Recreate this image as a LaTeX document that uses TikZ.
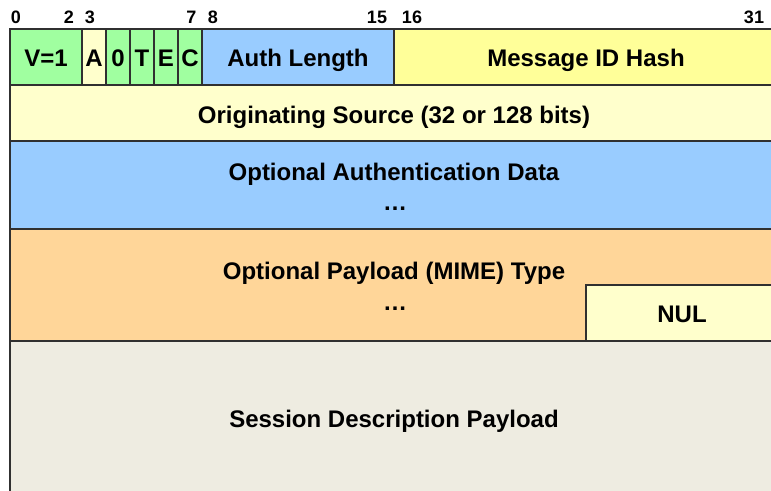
\documentclass[tikz,border=0pt]{standalone}
\usepackage{fontspec}
\setmainfont{Liberation Sans}
\definecolor{cgreen}{HTML}{A0FFA0}
\definecolor{cblue}{HTML}{99CCFF}
\definecolor{cyel}{HTML}{FFFF99}
\definecolor{clyel}{HTML}{FFFFCC}
\definecolor{cpeach}{HTML}{FFD699}
\definecolor{ctan}{HTML}{EEECE1}
\definecolor{cline}{HTML}{303030}
\tikzset{
  cell/.style={draw=cline, line width=1.1pt},
  lbl/.style={font=\fontsize{24}{28}\selectfont\bfseries, anchor=base, inner sep=0pt},
  bitlbl/.style={font=\fontsize{18}{21}\selectfont\bfseries, anchor=base, inner sep=0pt},
}
\begin{document}
\begin{tikzpicture}[x=1pt,y=-1pt]
\useasboundingbox[fill=white] (0,0) rectangle (771,490);
% bit numbers
\node[bitlbl] (b0) at (16,23) {0};
\node[bitlbl] (b2) at (69,23) {2};
\node[bitlbl] (b3) at (90,23) {3};
\node[bitlbl] (b7) at (191.5,23) {7};
\node[bitlbl] (b8) at (213,23) {8};
\node[bitlbl] (b15) at (377,23) {15};
\node[bitlbl] (b16) at (412,23) {16};
\node[bitlbl] (b31) at (754,23) {31};
% row 5 (drawn first)
\path[cell, fill=ctan] (10,341) rectangle (778,500);
% row 1
\path[cell, fill=cgreen] (10,29) rectangle (82,85);
\path[cell, fill=clyel] (82,29) rectangle (106,85);
\path[cell, fill=cgreen] (106,29) rectangle (130,85);
\path[cell, fill=cgreen] (130,29) rectangle (154,85);
\path[cell, fill=cgreen] (154,29) rectangle (178,85);
\path[cell, fill=cgreen] (178,29) rectangle (202,85);
\path[cell, fill=cblue] (202,29) rectangle (394,85);
\path[cell, fill=cyel] (394,29) rectangle (778,85);
% row 2
\path[cell, fill=clyel] (10,85) rectangle (778,141);
% row 3
\path[cell, fill=cblue] (10,141) rectangle (778,229);
% row 4
\path[cell, fill=cpeach] (10,229) rectangle (778,341);
\path[cell, fill=clyel] (586,285) rectangle (778,341);
% texts
\node[lbl] (v) at (46,66.5) {V=1};
\node[lbl] (a) at (94,66.5) {A};
\node[lbl] (z) at (118,66.5) {0};
\node[lbl] (t) at (142,66.5) {T};
\node[lbl] (e) at (166,66.5) {E};
\node[lbl] (c) at (190,66.5) {C};
\node[lbl] (al) at (298,66.5) {Auth Length};
\node[lbl] (mh) at (586,66.5) {Message ID Hash};
\node[lbl] (os) at (394,123) {Originating Source (32 or 128 bits)};
\node[lbl] (oad) at (394,180) {Optional Authentication Data};
\node[lbl] (oadd) at (395,210) {…};
\node[lbl] (opt) at (394,279) {Optional Payload (MIME) Type};
\node[lbl] (optd) at (395,310) {…};
\node[lbl] (nul) at (682,322) {NUL};
\node[lbl] (sdp) at (394,427) {Session Description Payload};
\end{tikzpicture}
\end{document}
